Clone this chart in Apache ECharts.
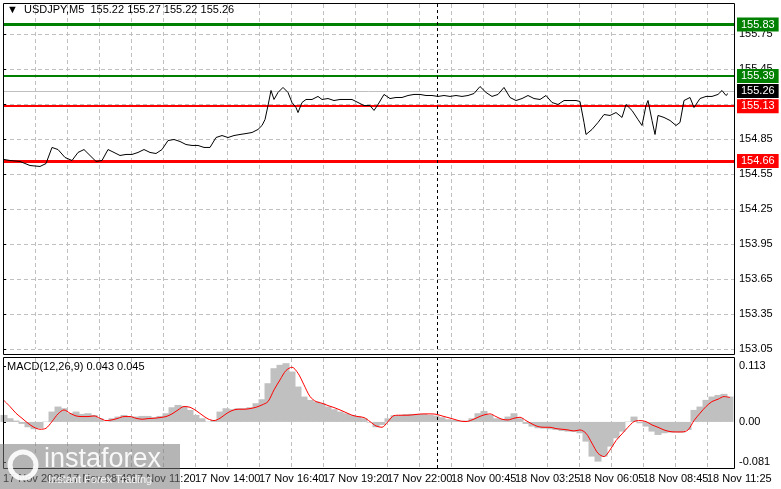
<!DOCTYPE html>
<html>
<head>
<meta charset="utf-8">
<script src="https://cdn.jsdelivr.net/npm/echarts@6/dist/echarts.min.js"></script>
<style>html,body{margin:0;padding:0;background:#fff}#chart{width:781px;height:489px}</style>
</head>
<body>
<div id="chart"></div>
<script>
// x positions are bar offsets (5 min bars) from the left edge
var timeLabels = ['17 Nov 2025', '17 Nov 08:40', '17 Nov 11:20', '17 Nov 14:00', '17 Nov 16:40', '17 Nov 19:20',
    '17 Nov 22:00', '18 Nov 00:45', '18 Nov 03:25', '18 Nov 06:05', '18 Nov 08:45', '18 Nov 11:25'];
var priceTicks = [153.05, 153.35, 153.65, 153.95, 154.25, 154.55, 154.85, 155.15, 155.45, 155.75];
var resistance = [155.83, 155.39];
var support = [155.13, 154.66];
var lastPrice = 155.26;
var daySeparator = 217;

var price = [
    [0.5,154.674],[3.5,154.665],[8.5,154.657],[13.5,154.622],[18.5,154.614],[21.5,154.639],[24.5,154.777],[27.5,154.759],
    [31,154.691],[34.5,154.665],[37.5,154.734],[40.5,154.759],[43.5,154.708],[46.5,154.657],[49.5,154.665],[52.5,154.759],
    [55.5,154.734],[58.5,154.708],[61.5,154.717],[64.5,154.717],[67.5,154.734],[70.5,154.759],[73.5,154.734],[76.5,154.725],
    [79.5,154.759],[82.5,154.836],[85.5,154.845],[88.5,154.828],[91.5,154.802],[94.5,154.794],[97.5,154.794],[100.5,154.777],
    [103.5,154.777],[106.5,154.862],[109.5,154.879],[112.5,154.862],[115.5,154.879],[118.5,154.888],[121.5,154.896],[124.5,154.905],
    [127.5,154.931],[129.5,154.965],[131,155.016],[132.5,155.136],[134,155.265],[135.5,155.188],[137.5,155.248],[140,155.291],
    [142.5,155.248],[144.5,155.162],[146.5,155.119],[147.5,155.076],[149.5,155.162],[151.5,155.188],[154.5,155.188],[157.5,155.214],
    [159.5,155.188],[162.5,155.196],[165.5,155.179],[168.5,155.188],[171.5,155.188],[174.5,155.188],[177.5,155.162],[180.5,155.136],
    [183.5,155.136],[185.5,155.094],[187.5,155.145],[190.5,155.231],[193.5,155.196],[196.5,155.205],[199.5,155.205],[202.5,155.222],
    [205.5,155.231],[208.5,155.231],[211.5,155.222],[214.5,155.222],[217.5,155.214],[220.5,155.222],[223.5,155.214],[226.5,155.222],
    [229.5,155.214],[232.5,155.222],[235.5,155.239],[238.5,155.299],[241.5,155.248],[244.5,155.214],[247.5,155.231],[250.5,155.291],
    [253.5,155.205],[256.5,155.179],[259.5,155.196],[262.5,155.222],[265.5,155.196],[268.5,155.188],[271.5,155.222],[274.5,155.162],
    [277.5,155.145],[280.5,155.179],[283.5,155.179],[286.5,155.179],[288.5,155.171],[290.5,154.991],[291.5,154.888],[294.5,154.931],
    [297.5,154.991],[300.5,155.059],[303.5,155.051],[306.5,155.076],[309.5,155.034],[311.5,155.145],[314.5,155.094],[317.5,155.016],
    [319.5,154.965],[321.5,155.136],[322.5,155.179],[324.5,155.008],[326,154.888],[327.5,155.051],[330.5,155.034],[333.5,155.008],
    [336.5,154.965],[338.5,154.991],[340.5,155.179],[343.5,155.205],[345.5,155.119],[348.5,155.196],[351.5,155.214],[354.5,155.214],
    [357.5,155.231],[359.5,155.265],[361.5,155.222],[362.5,155.239]
];

// MACD values (x1000), one every 3 bars starting at bar 0.5
var macdHist = [14.1,7.4,2.7,-4.0,-10.8,-14.8,-12.8,0.7,20.9,31.0,27.6,17.5,20.9,16.2,17.5,14.1,7.4,0.7,7.4,10.8,
    14.1,10.8,10.8,12.1,12.1,9.4,12.1,17.5,29.6,34.3,32.3,24.2,14.1,7.4,0.7,4.0,20.9,27.6,25.6,27.6,
    27.6,29.6,37.7,45.8,78.1,108.4,115.2,118.5,101.7,71.4,51.2,44.4,41.1,37.7,31.0,25.6,20.9,17.5,13.5,10.8,
    7.4,-1.3,-10.8,-6.1,7.4,13.5,14.1,15.5,16.2,16.2,16.2,14.1,12.8,9.4,5.4,4.0,2.0,2.7,7.4,17.5,
    22.2,14.1,7.4,6.1,10.8,17.5,7.4,-4.0,-9.4,-12.8,-13.5,-14.8,-16.2,-18.2,-19.5,-20.2,-22.9,-39.7,-70.0,-80.1,
    -70.0,-49.8,-33.0,-19.5,0.7,10.8,-2.7,-9.4,-19.5,-26.3,-22.9,-21.5,-21.5,-21.5,-16.2,24.2,31.0,44.4,51.2,54.5,
    56.6,51.2];
var macdSignal = [43.1,31.0,17.5,7.4,-2.7,-10.8,-14.8,-12.8,0.7,16.2,24.2,17.5,12.1,10.8,10.8,12.1,7.4,2.7,4.0,7.4,
    10.8,10.8,7.4,5.4,6.7,7.4,8.8,10.8,16.2,24.2,31.0,29.6,22.9,14.1,6.1,2.7,7.4,16.2,22.9,25.6,
    25.6,26.9,29.6,34.3,41.1,64.6,84.8,103.7,110.4,98.3,74.7,51.2,41.1,37.7,33.0,29.0,24.2,18.9,13.5,10.8,
    8.8,0.7,-8.1,-10.8,0.7,12.8,13.5,13.5,14.1,15.5,16.2,16.2,15.5,12.1,8.8,5.4,2.0,0.7,4.0,9.4,
    14.1,16.2,10.8,5.4,4.0,7.4,9.4,2.7,-4.0,-9.4,-10.8,-10.8,-13.5,-14.8,-16.2,-18.2,-16.2,-22.9,-43.1,-63.3,
    -70.0,-56.6,-37.7,-24.2,-10.8,0.7,2.7,0.7,-6.1,-10.8,-16.2,-19.5,-20.2,-20.2,-16.2,2.7,17.5,31.0,41.1,45.8,
    51.2,49.2];

var FONT = 'Liberation Sans';
var chart = echarts.init(document.getElementById('chart'));

function toPairs(arr){
    return arr.map(function(v, i){ return [0.5 + 3 * i, v / 1000]; });
}
function levelLine(v, color, width){
    return {
        yAxis: v,
        lineStyle: {color: color, width: width, type: 'solid'},
        label: {show: true, position: 'end', distance: 3, formatter: v.toFixed(2), color: '#fff',
            backgroundColor: color, padding: [2, 4, 1, 4], fontFamily: FONT, fontSize: 11}
    };
}

var xAxisBase = {
    type: 'value', min: 0, max: 365.5, interval: 16,
    axisLine: {show: false}, axisTick: {show: false},
    splitLine: {show: true, lineStyle: {color: '#c0c0c0', type: [4, 3]}}
};

var option = {
    animation: false,
    backgroundColor: '#fff',
    grid: [
        {left: 3, right: 47, top: 4, height: 345},
        {left: 3, right: 47, top: 358, height: 110}
    ],
    xAxis: [
        Object.assign({gridIndex: 0, axisLabel: {show: false}}, xAxisBase),
        Object.assign({gridIndex: 1, axisLabel: {
            show: true, color: '#000', fontFamily: FONT, fontSize: 11, align: 'left', margin: 5,
            showMaxLabel: false,
            formatter: function(v){ return v % 32 === 0 ? (timeLabels[v / 32] || '') : ''; }
        }}, xAxisBase)
    ],
    yAxis: [
        {
            gridIndex: 0, type: 'value', position: 'right', min: 153.05, max: 156.006, interval: 0.3,
            axisLine: {show: false},
            axisTick: {show: true, length: 3, lineStyle: {color: '#000'}},
            axisLabel: {color: '#000', fontFamily: FONT, fontSize: 11, margin: 5, showMaxLabel: false,
                formatter: function(v){ return v.toFixed(2); }},
            splitLine: {show: true, showMaxLine: false, lineStyle: {color: '#c0c0c0', type: [4, 3]}}
        },
        {
            gridIndex: 1, type: 'value', position: 'right', min: -0.093, max: 0.129,
            axisLine: {show: false},
            axisTick: {show: true, length: 3, customValues: [0.113, 0, -0.081], lineStyle: {color: '#000'}},
            axisLabel: {color: '#000', fontFamily: FONT, fontSize: 11, margin: 5,
                customValues: [0.113, 0, -0.081],
                formatter: function(v){ return v === 0 ? '0.00' : v.toFixed(3); }},
            splitLine: {show: false}
        }
    ],
    graphic: [
        {type: 'rect', shape: {x: 3.5, y: 3.5, width: 731, height: 351}, style: {fill: 'none', stroke: '#000', lineWidth: 1}, z: 10},
        {type: 'rect', shape: {x: 3.5, y: 357.5, width: 731, height: 111}, style: {fill: 'none', stroke: '#000', lineWidth: 1}, z: 10},
        {type: 'text', left: 7, top: 4, style: {text: '▼  USDJPY,M5  155.22 155.27 155.22 155.26', fill: '#000', font: '11px "Liberation Sans"'}, z: 10},
        {type: 'text', left: 7, top: 361, style: {text: 'MACD(12,26,9) 0.043 0.045', fill: '#000', font: '11px "Liberation Sans"'}, z: 10},
        {type: 'rect', shape: {x: 0, y: 444, width: 180, height: 45}, style: {fill: 'rgba(120,120,120,0.55)'}, z: 20},
        {type: 'text', left: 44, top: 446, style: {text: 'instaforex', fill: 'rgba(255,255,255,0.9)', font: '27px "Liberation Sans"'}, z: 21},
        {type: 'text', left: 48, top: 474, style: {text: 'Instant Forex Trading', fill: 'rgba(255,255,255,0.9)', font: '11px "Liberation Sans"'}, z: 21},
        {type: 'circle', shape: {cx: 23, cy: 465, r: 13}, style: {fill: 'none', stroke: 'rgba(255,255,255,0.9)', lineWidth: 5}, z: 21}
    ],
    series: [
        {
            type: 'line', xAxisIndex: 0, yAxisIndex: 0, data: price, symbol: 'none',
            lineStyle: {color: '#000', width: 1}, z: 5,
            markLine: {
                silent: true, symbol: 'none', animation: false,
                data: [
                    levelLine(resistance[0], '#008000', 3),
                    levelLine(resistance[1], '#008000', 2),
                    levelLine(support[0], '#ff0000', 2),
                    levelLine(support[1], '#ff0000', 3),
                    (function(){ var l = levelLine(lastPrice, '#000', 1); l.lineStyle.color = '#c0c0c0'; return l; })(),
                    {xAxis: daySeparator, lineStyle: {color: '#000', width: 1, type: [3, 3]}, label: {show: false}}
                ]
            }
        },
        {
            type: 'bar', xAxisIndex: 1, yAxisIndex: 1, data: toPairs(macdHist), barWidth: 7,
            itemStyle: {color: '#c0c0c0'}, z: 2,
            markLine: {silent: true, symbol: 'none', animation: false,
                data: [{xAxis: daySeparator, lineStyle: {color: '#000', width: 1, type: [3, 3]}, label: {show: false}}]}
        },
        {
            type: 'line', xAxisIndex: 1, yAxisIndex: 1, data: toPairs(macdSignal), symbol: 'none', smooth: 0.3,
            lineStyle: {color: '#ff0000', width: 1}, z: 5
        }
    ]
};
chart.setOption(option);
</script>
</body>
</html>
